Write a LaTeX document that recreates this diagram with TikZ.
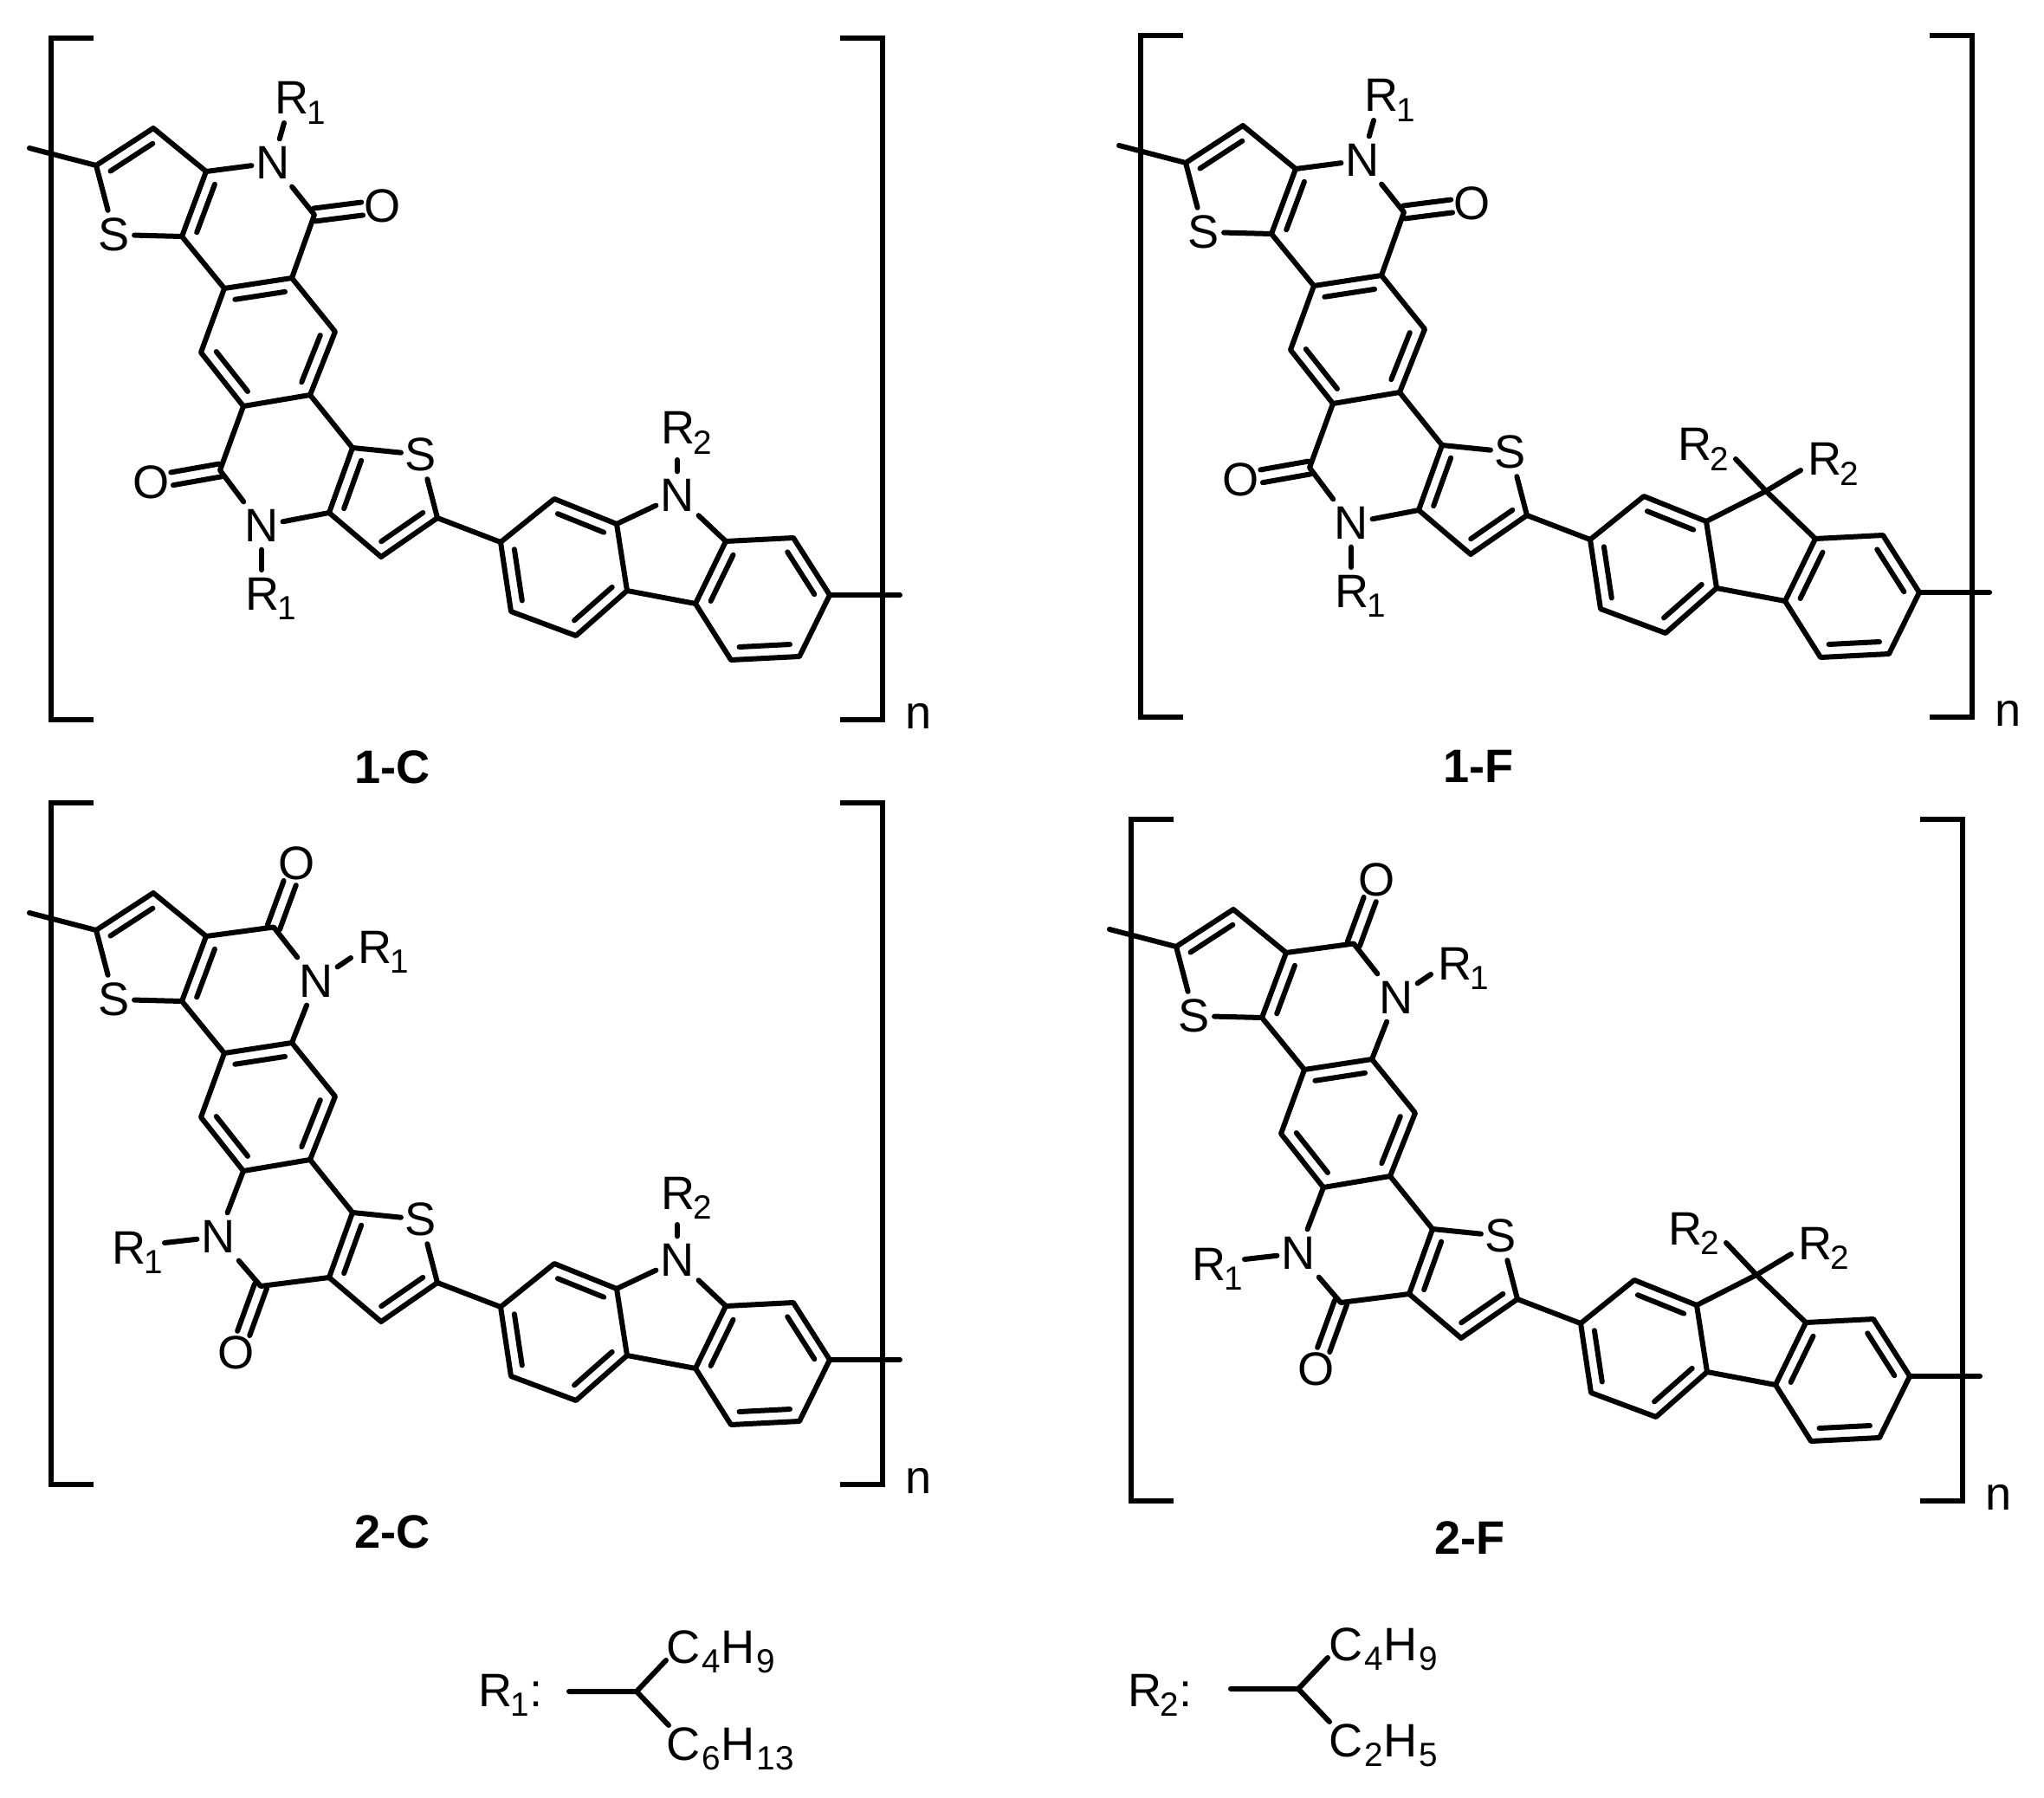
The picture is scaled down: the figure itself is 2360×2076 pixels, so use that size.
\documentclass[tikz,border=0pt]{standalone}
\usepackage{fontspec}
\setmainfont{Liberation Sans}
\usetikzlibrary{calc}
\newcommand\dn[1]{\lower3.3pt\hbox{\fontsize{11}{13}\selectfont #1}}
\newcommand\dk[1]{\kern0.7pt\dn{#1}}
\newcommand\Rr[1]{R\kern-0.4pt\dn{#1}}
\tikzset{
  bond/.style={line width=0.06cm,line cap=round,line join=round,black},
  brack/.style={line width=0.066cm,line cap=butt,line join=miter,black},
  atom/.style={inner xsep=0.05cm,inner ysep=0.09cm,outer sep=0pt,anchor=center,font=\fontsize{15.4}{18}\selectfont},
  oxy/.style={atom},
  txt/.style={inner sep=0pt,outer sep=0pt,anchor=base west,font=\fontsize{15.4}{18}\selectfont},
  title/.style={inner sep=0pt,outer sep=0pt,anchor=base,font=\fontsize{15.4}{18}\selectfont\bfseries},
}
\newcommand\innerb[2]{\draw[bond] ($(#1)!.13!(#2)!.145cm!90:(#2)$) -- ($(#2)!.13!(#1)!.145cm!-90:(#1)$);}
\newcommand\cobond[2]{%
  \draw[bond,shorten >=0.24cm] ($(#1)!.075cm!90:(#2)$) -- ($(#2)!.075cm!-90:(#1)$);
  \draw[bond,shorten >=0.24cm] ($(#1)!.075cm!-90:(#2)$) -- ($(#2)!.075cm!90:(#1)$);}
% brackets, thienyl/benzene core and the aryl attachment point
\newcommand\core{%
  \coordinate (stA) at (34,171); \coordinate (t2) at (111,191); \coordinate (t3) at (177,148);
  \coordinate (t3a) at (238,198); \coordinate (t7a) at (210,273);
  \node[atom] (s1) at (132,271) {S};
  \coordinate (c1) at (337,321); \coordinate (c2) at (259,333); \coordinate (c3) at (232,407);
  \coordinate (c4) at (281,469); \coordinate (c5) at (358,456); \coordinate (c6) at (387,383);
  \coordinate (u7a) at (407,517); \node[atom] (s2) at (486,525) {S};
  \coordinate (u2) at (505,598); \coordinate (u3) at (440,643); \coordinate (u3a) at (380,592);
  \coordinate (a1) at (578,626); \coordinate (a2) at (640,576); \coordinate (a3) at (712,605);
  \coordinate (a4) at (724,682); \coordinate (a5) at (665,734); \coordinate (a6) at (590,706);
  \coordinate (b1) at (838,625); \coordinate (b2) at (916,621); \coordinate (b3) at (958,687);
  \coordinate (b4) at (923,758); \coordinate (b5) at (844,762); \coordinate (b6) at (803,697);
  \coordinate (stB) at (1039,687);
  \coordinate (la) at (108,44); \coordinate (lb) at (59,44); \coordinate (lc) at (59,831); \coordinate (ld) at (108,831);
  \coordinate (ra) at (970,44); \coordinate (rb) at (1019,44); \coordinate (rc) at (1019,831); \coordinate (rd) at (970,831);
  \draw[brack] (la) -- (lb) -- (lc) -- (ld);
  \draw[brack] (ra) -- (rb) -- (rc) -- (rd);
  \node[txt] (nn) at (1045,841) {n};
  \draw[bond] (stA) -- (t2) -- (t3) -- (t3a) -- (t7a) -- (s1) -- (t2);
  \innerb{t3}{t2} \innerb{t3a}{t7a}
  \draw[bond] (t7a) -- (c2) -- (c1) -- (c6) -- (c5) -- (c4) -- (c3) -- (c2);
  \innerb{c1}{c2} \innerb{c3}{c4} \innerb{c5}{c6}
  \draw[bond] (c5) -- (u7a) -- (u3a) -- (u3) -- (u2) -- (s2) -- (u7a);
  \innerb{u7a}{u3a} \innerb{u3}{u2}
  \draw[bond] (u2) -- (a1) -- (a2) -- (a3) -- (a4) -- (a5) -- (a6) -- (a1);
  \innerb{a1}{a6} \innerb{a5}{a4} \innerb{a3}{a2}
  \draw[bond] (a4) -- (b6) -- (b5) -- (b4) -- (b3) -- (b2) -- (b1) -- (b6);
  \innerb{b1}{b6} \innerb{b5}{b4} \innerb{b3}{b2}
  \draw[bond] (b3) -- (stB);
}
\newcommand\lactamA{%
  \node[atom] (n1) at (315,188) {N}; \coordinate (co) at (363,248); \node[oxy] (o1) at (442,238) {O};
  \node[txt] (r1) at (317,132) {\Rr{1}}; \coordinate (r1e) at (328,142);
  \node[atom] (n2) at (302,607) {N}; \coordinate (cp) at (254,543); \node[oxy] (o2) at (175,557) {O};
  \node[txt] (r2) at (283,704) {\Rr{1}}; \coordinate (r2e) at (302,658);
  \draw[bond] (t3a) -- (n1) -- (co) -- (c1);
  \draw[bond] (n1) -- (r1e);
  \cobond{co}{o1}
  \draw[bond] (c4) -- (cp) -- (n2) -- (u3a);
  \draw[bond] (n2) -- (r2e);
  \cobond{cp}{o2}
}
\newcommand\lactamB{%
  \node[atom] (n1) at (365,250) {N}; \coordinate (co) at (316,187.5); \node[oxy] (o1) at (343,114) {O};
  \node[txt] (r1) at (413,229) {\Rr{1}}; \coordinate (r1e) at (405,223);
  \node[atom] (n2) at (252,545) {N}; \coordinate (cp) at (301,602); \node[oxy] (o2) at (273,679) {O};
  \node[txt] (r2) at (129,576) {\Rr{1}}; \coordinate (r2e) at (190,552);
  \draw[bond] (t3a) -- (co) -- (n1) -- (c1);
  \draw[bond] (n1) -- (r1e);
  \cobond{co}{o1}
  \draw[bond] (c4) -- (n2) -- (cp) -- (u3a);
  \draw[bond] (n2) -- (r2e);
  \cobond{cp}{o2}
}
\newcommand\carbazole{%
  \node[atom] (n9) at (782,572) {N};
  \node[txt] (r9) at (763,513) {\Rr{2}}; \coordinate (r9e) at (782,531);
  \draw[bond] (a3) -- (n9) -- (b1);
  \draw[bond] (n9) -- (r9e);
}
\newcommand\fluorene{%
  \coordinate (c9) at (781,570);
  \node[txt] (r8) at (679,535) {\Rr{2}}; \coordinate (r8e) at (746,533);
  \node[txt] (r9) at (829,552) {\Rr{2}}; \coordinate (r9e) at (821,546);
  \draw[bond] (a3) -- (c9) -- (b1);
  \draw[bond] (c9) -- (r8e);
  \draw[bond] (c9) -- (r9e);
}
\begin{document}
\begin{tikzpicture}[x=0.01cm,y=-0.01cm]
\useasboundingbox (0,0) rectangle (2360,2076);
\begin{scope}[name prefix=A-]
  \core \lactamA \carbazole
\end{scope}
\begin{scope}[shift={(1258,-3)},name prefix=B-]
  \core \lactamA \fluorene
\end{scope}
\begin{scope}[shift={(0,883)},name prefix=C-]
  \core \lactamB \carbazole
\end{scope}
\begin{scope}[shift={(1247,902)},name prefix=D-]
  \core \lactamB \fluorene
\end{scope}
\node[title] (t1c) at (453,904) {1-C};
\node[title] (t1f) at (1707,903) {1-F};
\node[title] (t2c) at (453,1787) {2-C};
\node[title] (t2f) at (1697,1794) {2-F};
% substituent keys
\node[txt] (k1) at (552,1970) {\Rr{1}:};
\coordinate (k1a) at (657,1953); \coordinate (k1b) at (735,1953);
\coordinate (k1c) at (769,1917); \coordinate (k1d) at (772,1992);
\node[txt] (k1u) at (769,1920) {C\dk{4}H\dk{9}};
\node[txt] (k1l) at (769,2032) {C\dk{6}H\dk{13}};
\draw[bond] (k1a) -- (k1b) -- (k1c);
\draw[bond] (k1b) -- (k1d);
\node[txt] (k2) at (1302,1970) {\Rr{2}:};
\coordinate (k2a) at (1421,1950); \coordinate (k2b) at (1499,1950);
\coordinate (k2c) at (1533,1914); \coordinate (k2d) at (1535,1988);
\node[txt] (k2u) at (1534,1917) {C\dk{4}H\dk{9}};
\node[txt] (k2l) at (1534,2028) {C\dk{2}H\dk{5}};
\draw[bond] (k2a) -- (k2b) -- (k2c);
\draw[bond] (k2b) -- (k2d);
\end{tikzpicture}
\end{document}
